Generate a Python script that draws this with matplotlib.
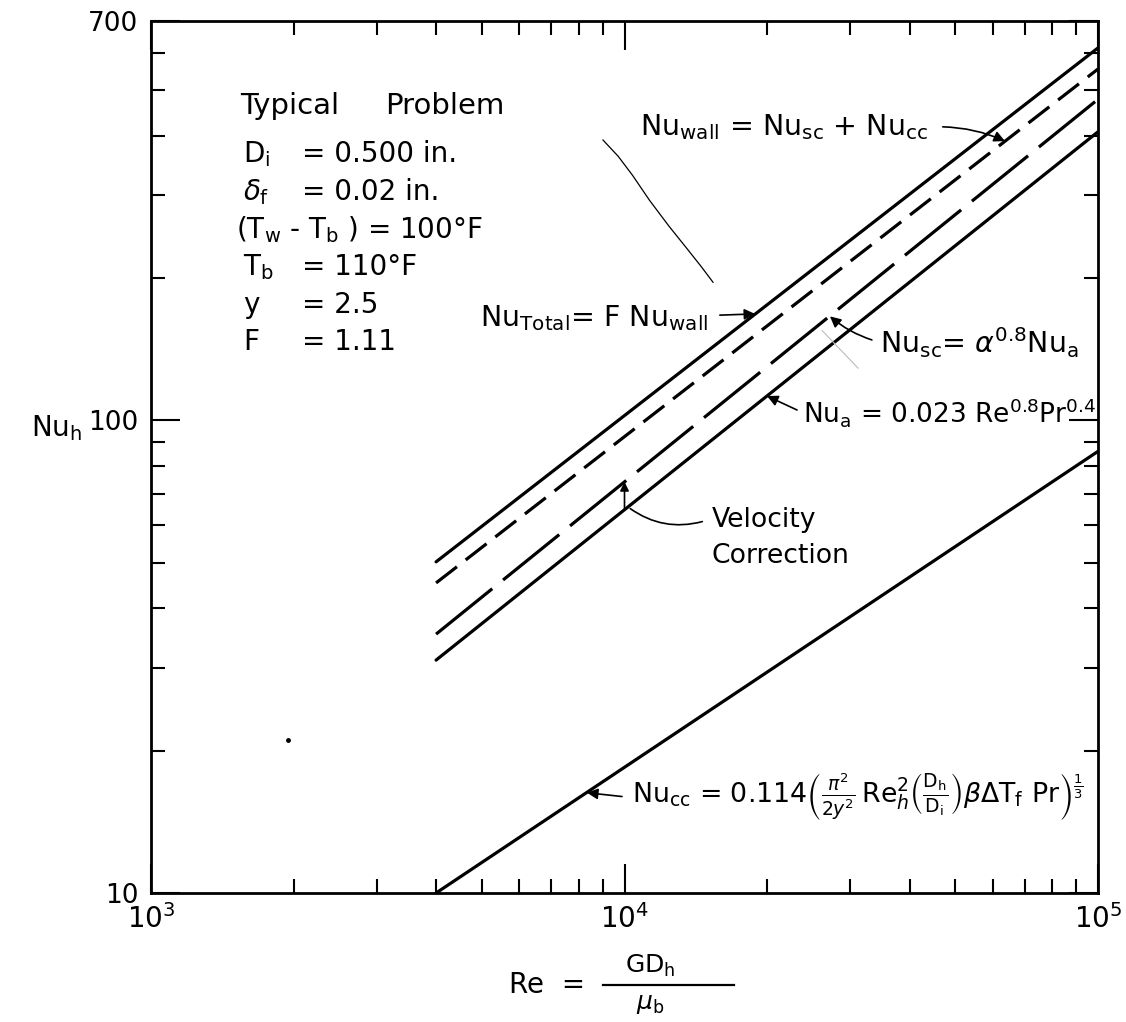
import matplotlib
matplotlib.use("Agg")
import matplotlib.pyplot as plt
from matplotlib.lines import Line2D
import numpy as np

plt.rcParams['font.family'] = ['DejaVu Sans']
plt.rcParams['mathtext.fontset'] = 'dejavusans'
plt.rcParams['lines.scale_dashes'] = False

# Reynolds number range covered by every correlation
re_ends = [4000, 100000]

# Nusselt numbers at the two ends of each straight (log-log) line
nu_total = [50.2, 614]
nu_wall = [45.3, 554]
nu_sc = [35.3, 478]
nu_a = [31.1, 408]
nu_cc = [10.0, 86]

# stray pencil stroke and specks on the sheet
stroke_re = [9006, 9700, 10400, 11300, 12400, 13500, 14500, 15380]
stroke_nu = [392, 362, 330, 292, 258, 232, 212, 196]
faint_re = [26130, 31130]
faint_nu = [155, 129]
speck_re = [1947]
speck_nu = [21.1]

x_major = [1e3, 1e4, 1e5]
x_major_labels = [r'$10^3$', r'$10^4$', r'$10^5$']
x_minor = [2e3, 3e3, 4e3, 5e3, 6e3, 7e3, 8e3, 9e3,
           2e4, 3e4, 4e4, 5e4, 6e4, 7e4, 8e4, 9e4]
y_major = [10, 100, 700]
y_major_labels = ['10', '100', '700']
y_minor = [20, 30, 40, 50, 60, 70, 80, 90, 200, 300, 400, 500, 600]

W, H = 1126, 1022


def fxy(px, py):
    return px / W, 1 - py / H


def loginterp(x, xs, ys):
    return 10 ** np.interp(np.log10(x), np.log10(xs), np.log10(ys))


def main():
    fig = plt.figure(figsize=(W / 100, H / 100), dpi=100)
    ax = fig.add_axes([151 / W, 1 - 893 / H, 947 / W, 872 / H])
    ax.set_xscale('log')
    ax.set_yscale('log')
    ax.set_xlim(1e3, 1e5)
    ax.set_ylim(10, 700)

    lw = 2.3
    ax.plot(re_ends, nu_total, color='black', lw=lw, solid_capstyle='round')
    ax.plot(re_ends, nu_wall, color='black', lw=lw, dashes=(19, 8))
    ax.plot(re_ends, nu_sc, color='black', lw=lw, dashes=(52, 10))
    ax.plot(re_ends, nu_a, color='black', lw=lw, solid_capstyle='round')
    ax.plot(re_ends, nu_cc, color='black', lw=lw, solid_capstyle='round')

    ax.plot(stroke_re, stroke_nu, color='black', lw=0.9)
    ax.plot(faint_re, faint_nu, color='#bbbbbb', lw=0.8)
    ax.plot(speck_re, speck_nu, 'o', color='black', ms=2.5)

    # ticks
    ax.set_xticks(x_major)
    ax.set_xticklabels(x_major_labels)
    ax.set_xticks(x_minor, minor=True)
    ax.set_xticklabels([], minor=True)
    ax.set_yticks(y_major)
    ax.set_yticklabels(y_major_labels)
    ax.set_yticks(y_minor, minor=True)
    ax.set_yticklabels([], minor=True)
    ax.tick_params(which='both', direction='in', top=True, right=True,
                   width=1.5, labelsize=19, color='black')
    ax.tick_params(axis='x', labelsize=20)
    ax.tick_params(which='major', length=21)
    ax.tick_params(which='minor', length=10)
    ax.tick_params(axis='x', pad=8)
    ax.tick_params(axis='y', pad=9)
    for s in ax.spines.values():
        s.set_linewidth(2.0)

    # problem data block
    fs = 20
    fig.text(*fxy(240, 114), 'Typical', fontsize=21, va='baseline')
    fig.text(*fxy(385, 114), 'Problem', fontsize=21, va='baseline')
    rows = [
        (r'D$_\mathrm{i}$', '= 0.500 in.', 162),
        (r'$\delta_\mathrm{f}$', '= 0.02 in.', 200),
        (r'T$_\mathrm{b}$', '= 110°F', 275),
        ('y', '= 2.5', 313),
        ('F', '= 1.11', 350),
    ]
    for name, val, base in rows:
        fig.text(*fxy(243, base), name, fontsize=fs, va='baseline')
        fig.text(*fxy(302, base), val, fontsize=fs, va='baseline')
    fig.text(*fxy(236, 238), r'(T$_\mathrm{w}$ - T$_\mathrm{b}$ ) = 100°F',
             fontsize=fs, va='baseline')

    # curve labels
    arrow = dict(arrowstyle='-|>', color='black', lw=1.2, mutation_scale=16,
                 shrinkA=0, shrinkB=0)
    ax.text(10800, 418, r'Nu$_\mathrm{wall}$ = Nu$_\mathrm{sc}$ + Nu$_\mathrm{cc}$',
            fontsize=20.5, va='center')
    ax.annotate('', xy=(63600, 390), xytext=(47000, 418),
                arrowprops=dict(arrow, connectionstyle='arc3,rad=-0.1'))

    ax.text(4950, 165, r'Nu$_\mathrm{Total}$= F Nu$_\mathrm{wall}$',
            fontsize=20.5, va='center')
    ax.annotate('', xy=(18870, 168), xytext=(15900, 167), arrowprops=arrow)

    ax.text(34640, 146, r'Nu$_\mathrm{sc}$= $\alpha^{0.8}$Nu$_\mathrm{a}$',
            fontsize=20.5, va='center')
    ax.annotate('', xy=(27160, 166), xytext=(33300, 148),
                arrowprops=dict(arrow, connectionstyle='arc3,rad=-0.1'))

    ax.text(23820, 104, r'Nu$_\mathrm{a}$ = 0.023 Re$^{0.8}$Pr$^{0.4}$',
            fontsize=19, va='center')
    ax.annotate('', xy=(20000, 112.6), xytext=(23140, 105.2), arrowprops=arrow)

    ax.text(10370, 16.0,
            r'Nu$_\mathrm{cc}$ = 0.114$\left(\frac{\pi^2}{2y^2}\,\mathrm{Re}_h^2'
            r'\left(\frac{\mathrm{D_h}}{\mathrm{D_i}}\right)\beta\Delta \mathrm{T_f}\ '
            r'\mathrm{Pr}\right)^{\frac{1}{3}}$',
            fontsize=19.3, va='center')
    ax.annotate('', xy=(8333, 16.3), xytext=(9880, 16.0), arrowprops=arrow)

    # velocity correction between Nu_a and Nu_sc at Re = 10^4
    ax.annotate('', xy=(1e4, loginterp(1e4, re_ends, nu_sc)),
                xytext=(1e4, loginterp(1e4, re_ends, nu_a)),
                arrowprops=dict(arrow, mutation_scale=13))
    ax.annotate('', xy=(10170, 65.6), xytext=(14790, 61.3),
                arrowprops=dict(arrowstyle='-', color='black', lw=1.2,
                                connectionstyle='arc3,rad=-0.25'))
    ax.text(15300, 61.5, 'Velocity', fontsize=19.2, va='center')
    ax.text(15300, 51.7, 'Correction', fontsize=19.2, va='center')

    # axis titles
    fig.text(*fxy(57, 428), r'Nu$_\mathrm{h}$', fontsize=20, ha='center', va='center')
    fig.text(*fxy(547, 985), 'Re  =', fontsize=20, ha='center', va='center')
    fig.text(*fxy(650, 966), r'GD$_\mathrm{h}$', fontsize=18, ha='center', va='center')
    fig.text(*fxy(650, 1004), r'$\mu_\mathrm{b}$', fontsize=18, ha='center', va='center')
    x0, y0 = fxy(603, 985)
    x1, _ = fxy(734, 985)
    fig.add_artist(Line2D([x0, x1], [y0, y0], color='black', lw=1.6,
                          transform=fig.transFigure))

    fig.savefig('out.png', dpi=100)


if __name__ == "__main__":
    main()
